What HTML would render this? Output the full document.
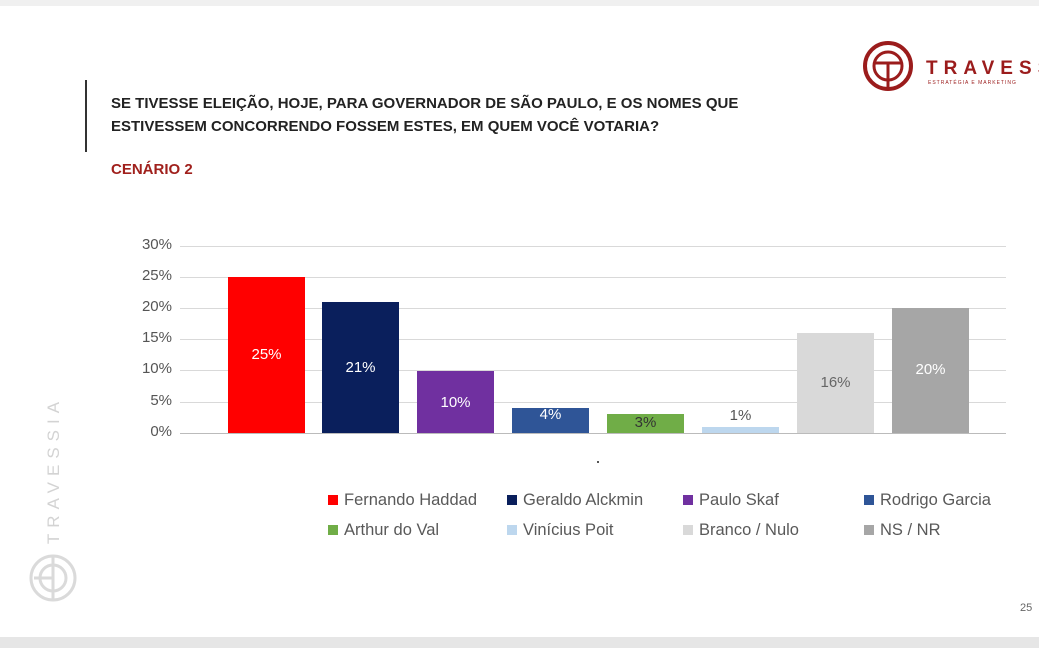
<!DOCTYPE html>
<html><head><style>
body{margin:0;width:1039px;height:648px;background:#fff;font-family:"Liberation Sans",sans-serif;position:relative;overflow:hidden}
.a{position:absolute}
.t{font-weight:bold;font-size:15px;color:#222;line-height:23px}
.yl{position:absolute;left:128px;width:44px;text-align:right;font-size:15px;color:#555}
.g{position:absolute;left:180px;width:826px;height:1px;background:#d9d9d9}
.b{position:absolute;width:77px}
.v{position:absolute;width:77px;text-align:center;font-size:15px}
.lg{position:absolute;font-size:16.5px;color:#595959}
.lg i{display:inline-block;width:10px;height:10px;margin-right:6px;vertical-align:0}
</style></head><body>
<div class="a" style="left:0;top:0;width:1039px;height:6px;background:#f0f0f0"></div>
<div class="a" style="left:0;top:637px;width:1039px;height:11px;background:#e6e6e6"></div>
<div class="a" style="left:85px;top:80px;width:2px;height:72px;background:#333"></div>
<div class="a t" style="left:111px;top:92px">SE TIVESSE ELEIÇÃO, HOJE, PARA GOVERNADOR DE SÃO PAULO, E OS NOMES QUE<br>ESTIVESSEM CONCORRENDO FOSSEM ESTES, EM QUEM VOCÊ VOTARIA?</div>
<div class="a" style="left:111px;top:161px;font-weight:bold;font-size:15px;color:#a0201c">CENÁRIO 2</div>
<svg class="a" style="left:862px;top:40px" width="52" height="52" viewBox="0 0 52 52"><circle cx="26" cy="26" r="23" fill="none" stroke="#9b1c1c" stroke-width="4"/><circle cx="26" cy="26" r="14" fill="none" stroke="#9b1c1c" stroke-width="3"/><line x1="12" y1="23" x2="40" y2="23" stroke="#9b1c1c" stroke-width="3"/><line x1="26" y1="23" x2="26" y2="50" stroke="#9b1c1c" stroke-width="3"/></svg>
<div class="a" style="left:926px;top:58px;font-size:19px;font-weight:bold;letter-spacing:6px;color:#9b1c1c">TRAVESS</div>
<div class="a" style="left:928px;top:80px;font-size:5px;letter-spacing:1px;color:#9b1c1c">ESTRATÉGIA E MARKETING</div>
<div class="a" style="left:-20px;top:460px;transform:rotate(-90deg);font-size:17px;letter-spacing:6px;color:#d3d3d3">TRAVESSIA</div>
<svg class="a" style="left:28px;top:553px" width="50" height="50" viewBox="0 0 50 50"><circle cx="25" cy="25" r="22" fill="none" stroke="#dadada" stroke-width="3"/><circle cx="25" cy="25" r="13" fill="none" stroke="#dadada" stroke-width="3"/><line x1="25" y1="3" x2="25" y2="47" stroke="#dadada" stroke-width="3"/><line x1="6" y1="25" x2="25" y2="25" stroke="#dadada" stroke-width="3"/></svg>
<div class="g" style="top:246px"></div><div class="g" style="top:277px"></div><div class="g" style="top:308px"></div><div class="g" style="top:339px"></div><div class="g" style="top:370px"></div><div class="g" style="top:402px"></div><div class="g" style="top:433px;background:#bbb"></div>
<div class="yl" style="top:236px">30%</div><div class="yl" style="top:267px">25%</div><div class="yl" style="top:298px">20%</div><div class="yl" style="top:329px">15%</div><div class="yl" style="top:360px">10%</div><div class="yl" style="top:392px">5%</div><div class="yl" style="top:423px">0%</div>
<div class="b" style="left:228px;top:277px;height:156px;background:#ff0000"></div><div class="v" style="left:228px;top:346px;color:#fff">25%</div>
<div class="b" style="left:322px;top:302px;height:131px;background:#0a1f5c"></div><div class="v" style="left:322px;top:359px;color:#fff">21%</div>
<div class="b" style="left:417px;top:371px;height:62px;background:#7030a0"></div><div class="v" style="left:417px;top:394px;color:#fff">10%</div>
<div class="b" style="left:512px;top:408px;height:25px;background:#2f5597"></div><div class="v" style="left:512px;top:406px;color:#fff">4%</div>
<div class="b" style="left:607px;top:414px;height:19px;background:#70ad47"></div><div class="v" style="left:607px;top:414px;color:#333">3%</div>
<div class="b" style="left:702px;top:427px;height:6px;background:#bdd7ee"></div><div class="v" style="left:702px;top:407px;color:#555">1%</div>
<div class="b" style="left:797px;top:333px;height:100px;background:#d9d9d9"></div><div class="v" style="left:797px;top:374px;color:#666">16%</div>
<div class="b" style="left:892px;top:308px;height:125px;background:#a6a6a6"></div><div class="v" style="left:892px;top:361px;color:#fff">20%</div>
<div class="a" style="left:597px;top:461px;width:2px;height:2px;background:#555"></div>
<div class="lg" style="left:328px;top:491px"><i style="background:#ff0000"></i>Fernando Haddad</div>
<div class="lg" style="left:507px;top:491px"><i style="background:#0a1f5c"></i>Geraldo Alckmin</div>
<div class="lg" style="left:683px;top:491px"><i style="background:#7030a0"></i>Paulo Skaf</div>
<div class="lg" style="left:864px;top:491px"><i style="background:#2f5597"></i>Rodrigo Garcia</div>
<div class="lg" style="left:328px;top:521px"><i style="background:#70ad47"></i>Arthur do Val</div>
<div class="lg" style="left:507px;top:521px"><i style="background:#bdd7ee"></i>Vinícius Poit</div>
<div class="lg" style="left:683px;top:521px"><i style="background:#d9d9d9"></i>Branco / Nulo</div>
<div class="lg" style="left:864px;top:521px"><i style="background:#a6a6a6"></i>NS / NR</div>
<div class="a" style="left:1020px;top:602px;font-size:11px;color:#666">25</div>
</body></html>
